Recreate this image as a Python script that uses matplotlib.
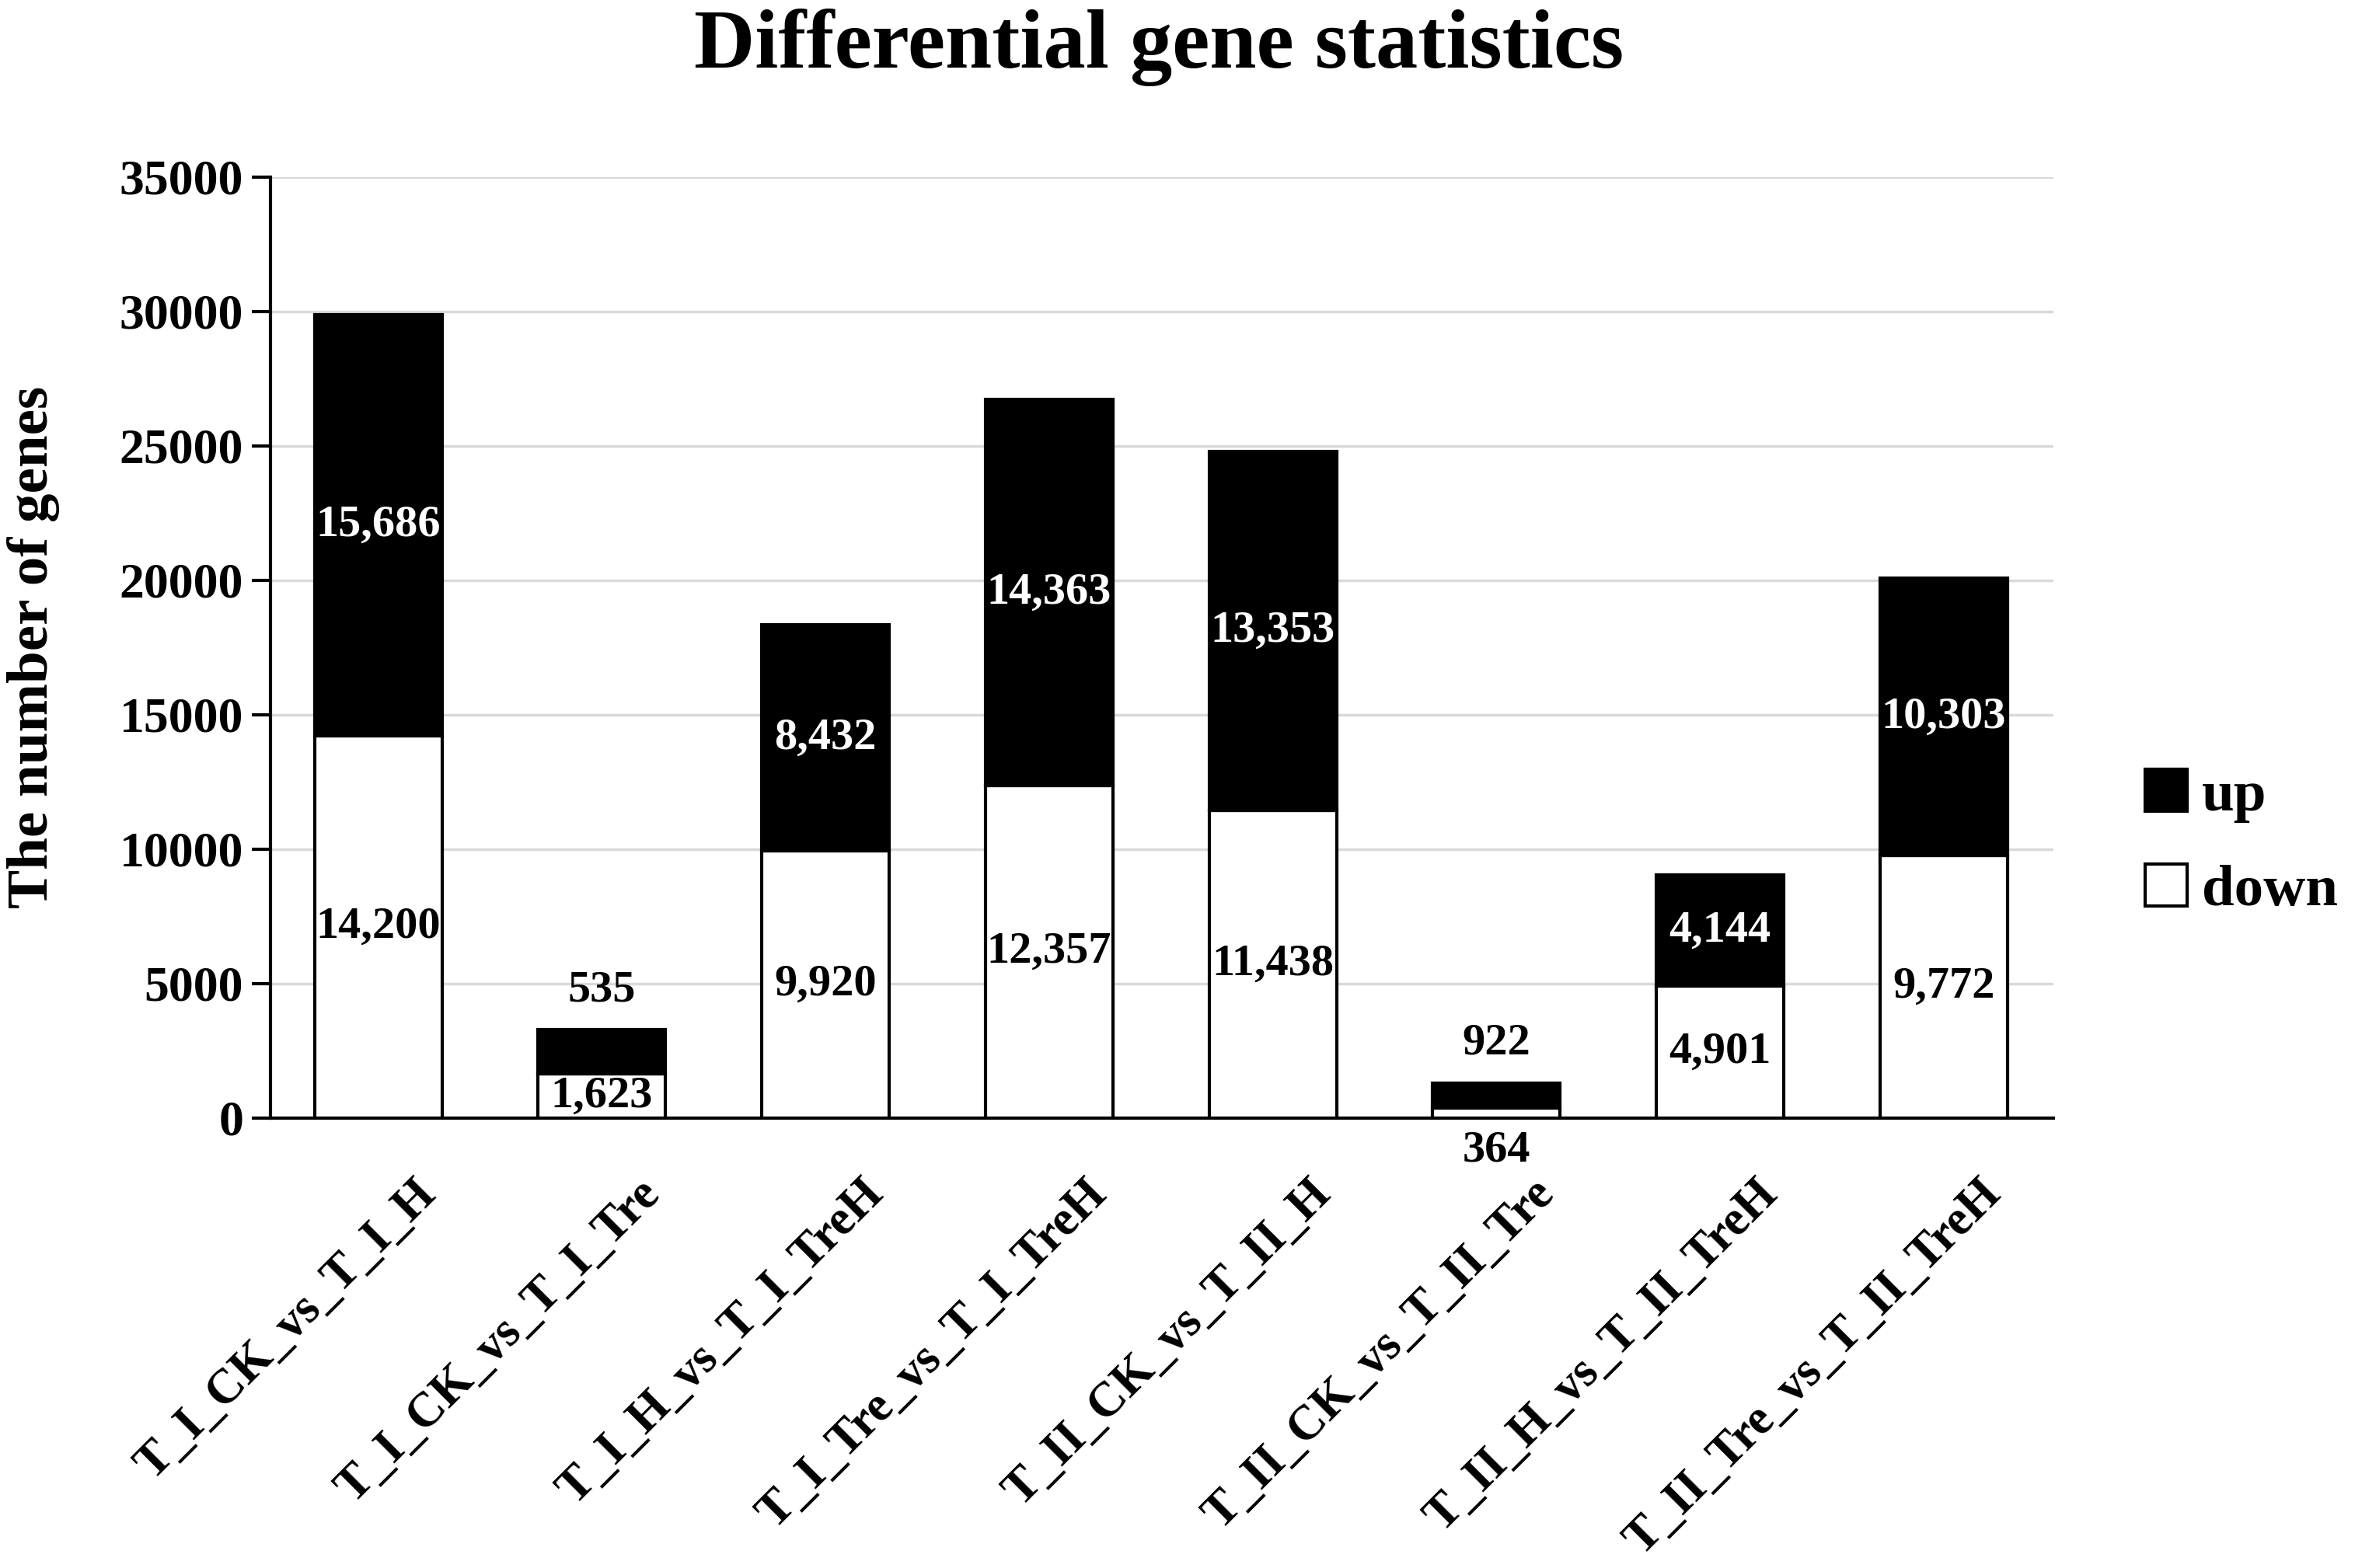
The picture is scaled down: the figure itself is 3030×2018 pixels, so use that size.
import matplotlib
matplotlib.use("Agg")
import matplotlib.pyplot as plt
import matplotlib.transforms as mtransforms
from matplotlib.patches import Patch

plt.rcParams['font.family'] = ['Liberation Serif', 'DejaVu Serif']
plt.rcParams['font.weight'] = 'bold'

comparisons = ["T_I_CK_vs_T_I_H", "T_I_CK_vs_T_I_Tre", "T_I_H_vs_T_I_TreH", "T_I_Tre_vs_T_I_TreH",
               "T_II_CK_vs_T_II_H", "T_II_CK_vs_T_II_Tre", "T_II_H_vs_T_II_TreH", "T_II_Tre_vs_T_II_TreH"]
down = [14200, 1623, 9920, 12357, 11438, 364, 4901, 9772]
up = [15686, 535, 8432, 14363, 13353, 922, 4144, 10303]
# heights of the black segments as drawn in the picture (second bar is drawn taller than its label)
up_drawn = [15686, 1650, 8432, 14363, 13353, 922, 4144, 10303]
yticks = [0, 5000, 10000, 15000, 20000, 25000, 30000, 35000]

fig = plt.figure(figsize=(30.3, 20.18), dpi=100)
ax = fig.add_axes([0.1148, 0.2871, 0.7570, 0.6000])

x = list(range(len(comparisons)))
bar_w = 0.57
ax.bar(x, down, width=bar_w, color="white", edgecolor="black", linewidth=3, zorder=3)
ax.bar(x, up_drawn, width=bar_w, bottom=down, color="black", edgecolor="black", linewidth=3, zorder=3)

# value labels
for i in x:
    if down[i] < 1000:
        ax.annotate(f"{down[i]:,}", (i, 0), xytext=(0, -30), textcoords="offset points",
                    ha="center", va="center", fontsize=42, color="black", zorder=5)
    else:
        ax.text(i, down[i] / 2, f"{down[i]:,}", ha="center", va="center",
                fontsize=42, color="black", zorder=5)
    if up_drawn[i] < 2000:
        ax.annotate(f"{up[i]:,}", (i, down[i] + up_drawn[i]), xytext=(0, 37), textcoords="offset points",
                    ha="center", va="center", fontsize=42, color="black", zorder=5)
    else:
        ax.text(i, down[i] + up_drawn[i] / 2, f"{up[i]:,}", ha="center", va="center",
                fontsize=42, color="white", zorder=5)

ax.set_xlim(-0.483, 7.49)
ax.set_ylim(0, 35000)
ax.set_yticks(yticks)
ax.set_yticklabels([str(t) for t in yticks], fontsize=46)
ax.yaxis.grid(True, color="#d9d9d9", linewidth=2.5, zorder=0)
ax.set_axisbelow(True)

for s in ["top", "right"]:
    ax.spines[s].set_visible(False)
ax.spines["left"].set_linewidth(3)
ax.spines["bottom"].set_linewidth(3)
ax.tick_params(axis="y", direction="out", length=17, width=3, pad=8)
ax.tick_params(axis="x", length=0, pad=50)

ax.set_xticks(x)
ax.set_xticklabels(comparisons, fontsize=45, rotation=45, ha="right", va="top", rotation_mode="anchor")
offset = mtransforms.ScaledTranslation(0.45, 0, fig.dpi_scale_trans)
for lab in ax.get_xticklabels():
    lab.set_transform(lab.get_transform() + offset)

ax.set_ylabel("The number of genes", fontsize=54, fontweight="bold")
ax.yaxis.set_label_coords(-0.118, 0.5)

fig.text(0.492, 0.970, "Differential gene statistics", ha="center", va="center", fontsize=78,
         fontweight="bold")

handles = [Patch(facecolor="black", edgecolor="black", linewidth=3, label="up"),
           Patch(facecolor="white", edgecolor="black", linewidth=3, label="down")]
fig.legend(handles=handles, loc="center left", bbox_to_anchor=(0.901, 0.462), frameon=False,
           fontsize=54, handlelength=0.72, handleheight=0.72, handletextpad=0.25,
           labelspacing=0.71, borderaxespad=0)

fig.savefig("out.png", dpi=100)
